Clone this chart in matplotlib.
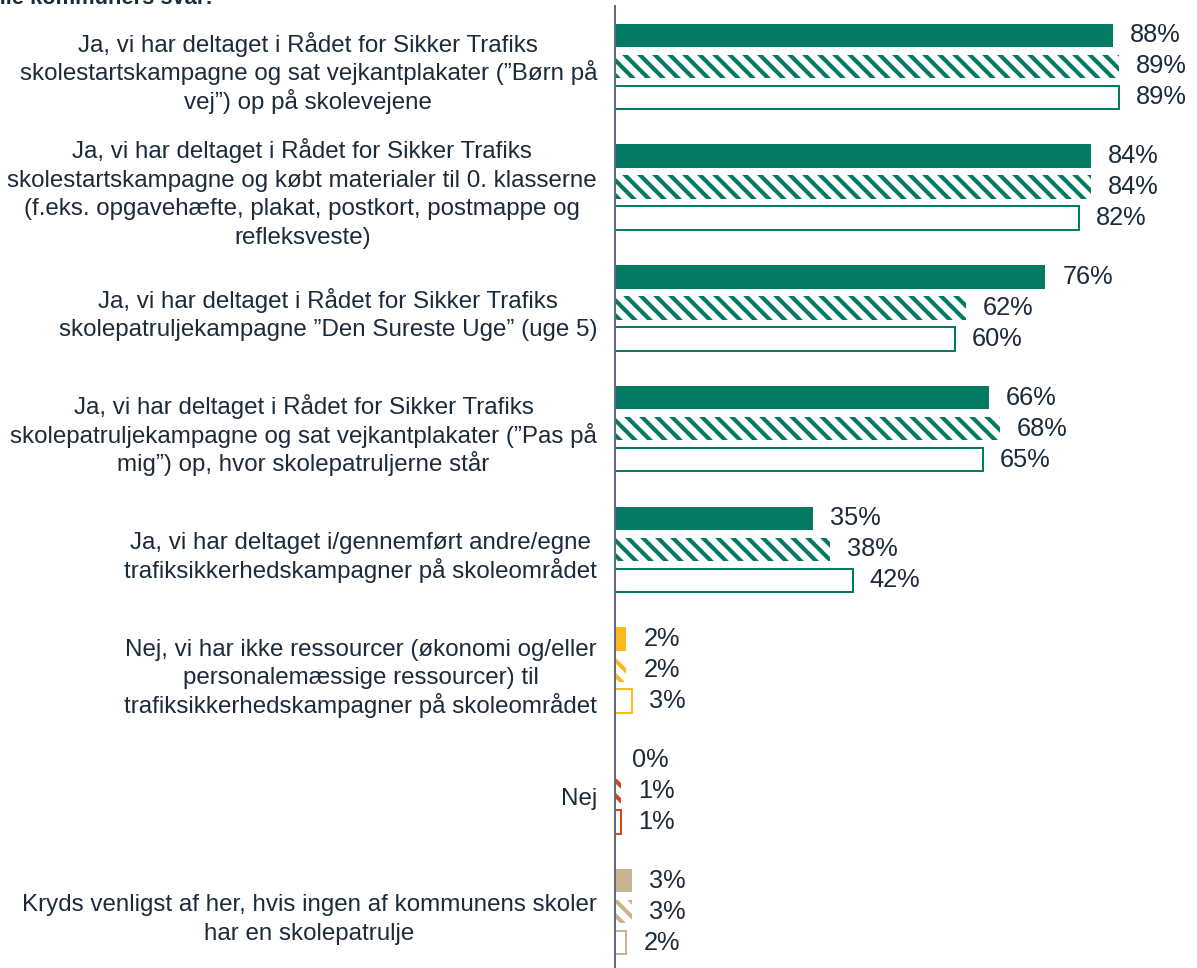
import matplotlib
matplotlib.use("Agg")
import matplotlib.pyplot as plt
import numpy as np

categories = [
    "Ja, vi har deltaget i Rådet for Sikker Trafiks\nskolestartskampagne og sat vejkantplakater (”Børn på\nvej”) op på skolevejene",
    "Ja, vi har deltaget i Rådet for Sikker Trafiks\nskolestartskampagne og købt materialer til 0. klasserne\n(f.eks. opgavehæfte, plakat, postkort, postmappe og\nrefleksveste)",
    "Ja, vi har deltaget i Rådet for Sikker Trafiks\nskolepatruljekampagne ”Den Sureste Uge” (uge 5)",
    "Ja, vi har deltaget i Rådet for Sikker Trafiks\nskolepatruljekampagne og sat vejkantplakater (”Pas på\nmig”) op, hvor skolepatruljerne står",
    "Ja, vi har deltaget i/gennemført andre/egne\ntrafiksikkerhedskampagner på skoleområdet",
    "Nej, vi har ikke ressourcer (økonomi og/eller\npersonalemæssige ressourcer) til\ntrafiksikkerhedskampagner på skoleområdet",
    "Nej",
    "Kryds venligst af her, hvis ingen af kommunens skoler\nhar en skolepatrulje",
]
series_solid = [88, 84, 76, 66, 35, 2, 0, 3]
series_hatched = [89, 84, 62, 68, 38, 2, 1, 3]
series_outline = [89, 82, 60, 65, 42, 3, 1, 2]
title_text = "Alle kommuners svar:"

GREEN = "#057A62"
YELLOW = "#FDB91E"
RED = "#D2471C"
TAN = "#C8B491"
group_colors = [GREEN, GREEN, GREEN, GREEN, GREEN, YELLOW, RED, TAN]
TEXT = "#1B2B3B"

DPI = 90
W, H = 1197, 968
plt.rcParams["font.family"] = ["Liberation Sans", "DejaVu Sans"]
plt.rcParams["hatch.linewidth"] = 3.3

fig = plt.figure(figsize=(W / DPI, H / DPI), dpi=DPI)
ax_left = 615 / W
ax = fig.add_axes([ax_left, (H - 972) / H, 1 - ax_left, 966 / H])

y = np.arange(len(categories))
off = 31 / 120.7
bh = 23.5 / 120.7

for i in range(len(categories)):
    c = group_colors[i]
    ax.barh(y[i] - off, series_solid[i], height=bh, color=c, linewidth=0)
    ax.barh(y[i], series_hatched[i], height=bh, facecolor="white", edgecolor=c,
            hatch="\\\\", linewidth=0)
    ax.barh(y[i] + off, series_outline[i], height=bh, facecolor="white",
            edgecolor=c, linewidth=1.6)

lab_off = 17 * 72 / DPI
for vals, dy in ((series_solid, -off), (series_hatched, 0), (series_outline, off)):
    for i, v in enumerate(vals):
        ax.annotate(f"{v}%", xy=(v, y[i] + dy), xytext=(lab_off, 0),
                    textcoords="offset points", ha="left", va="center",
                    fontsize=20.3, color=TEXT)

ax.set_xlim(0, 102.8)
ax.set_ylim(len(categories) - 0.5, -0.5)
ax.set_yticks([])
ax.set_xticks([])
for s in ("top", "right", "bottom"):
    ax.spines[s].set_visible(False)
ax.spines["left"].set_color("#5E6A77")
ax.spines["left"].set_linewidth(1.6)

# Category labels: centred multi-line blocks with even line spacing,
# right edge of the widest line 18 px left of the axis.
LABEL_FS = 19.3
LINE_PX = 28.5
fig.canvas.draw()
renderer = fig.canvas.get_renderer()
right_px = 597
for i, lab in enumerate(categories):
    lines = lab.split("\n")
    tmp = [fig.text(0, 0, l, fontsize=LABEL_FS) for l in lines]
    widths = [t.get_window_extent(renderer).width for t in tmp]
    for t in tmp:
        t.remove()
    cx = right_px - max(widths) / 2
    yc = ax.transData.transform((0, y[i]))[1] - 6  # pixels from bottom
    n = len(lines)
    for k, l in enumerate(lines):
        center = yc + ((n - 1) / 2 - k) * LINE_PX
        base = center - 8.0
        fig.text(cx / W, base / H, l, ha="center", va="baseline",
                 fontsize=LABEL_FS, color=TEXT)

fig.text(-16 / W, 1 - 4.5 / H, title_text, ha="left", va="baseline",
         fontsize=17.5, fontweight="bold", color=TEXT)

fig.savefig("out.png", dpi=DPI)
